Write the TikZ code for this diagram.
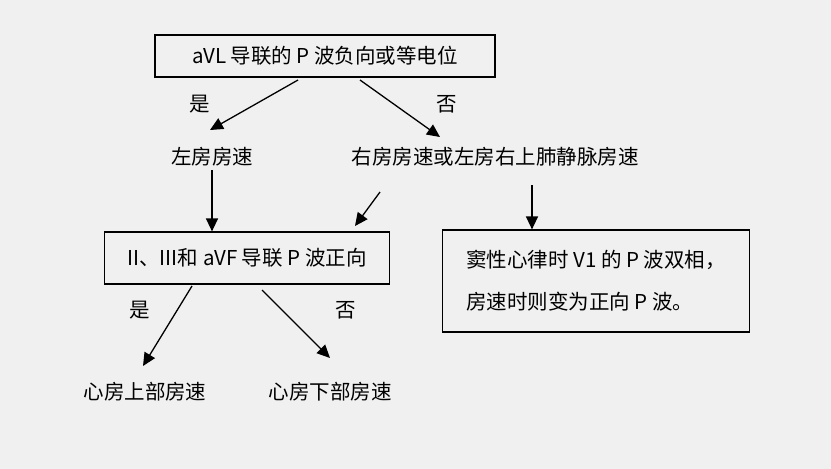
\documentclass[tikz,border=0pt]{standalone}
\usepackage{fontspec}
\setmainfont{Liberation Serif}
\newfontfamily\cjk{Noto Sans CJK SC}
\usetikzlibrary{arrows.meta}
\begin{document}
\begin{tikzpicture}[x=1pt,y=-1pt,
    box/.style = {draw, line width=1.2pt, inner sep=0pt},
    lbl/.style = {font=\cjk\fontsize{20.5}{24}\selectfont},
    arr/.style = {-{Triangle[length=13pt,width=12pt]}, line width=1.3pt}]
        \fill[gray!12] (0,0) rectangle (831,469) ; %
        \node[box, minimum width=340pt, minimum height=42pt, lbl] (top) at (325,56) {aVL 导联的 P 波负向或等电位} ; %
        \node[lbl] (yes1) at (200,104) {是} ; %
        \node[lbl] (no1) at (447,104) {否} ; %
        \node[lbl] (left) at (212,157) {左房房速} ; %
        \node[lbl] (right) at (495,157) {右房房速或左房右上肺静脉房速} ; %
        \node[box, minimum width=285pt, minimum height=52pt, lbl] (mid) at (247,258) {II、III和 aVF 导联 P 波正向} ; %
        \node[box, minimum width=307pt, minimum height=102pt, lbl, align=left] (sinus) at (596,281)
            {窦性心律时 V1 的 P 波双相，\\[18pt]房速时则变为正向 P 波。} ; %
        \node[lbl] (yes2) at (140,310) {是} ; %
        \node[lbl] (no2) at (346,310) {否} ; %
        \node[lbl] (upper) at (145,392) {心房上部房速} ; %
        \node[lbl] (lower) at (330,392) {心房下部房速} ; %
        %
        \coordinate (a1) at (298,80) ; \coordinate (b1) at (210,130) ; %
        \coordinate (a2) at (360,80) ; \coordinate (b2) at (440,137) ; %
        \coordinate (a3) at (380,192) ; \coordinate (b3) at (355,226) ; %
        \coordinate (a4) at (192,286) ; \coordinate (b4) at (143,366) ; %
        \coordinate (a5) at (262,290) ; \coordinate (b5) at (330,358) ; %
        %
        \draw[arr] (a1) -- (b1) ; %
        \draw[arr] (a2) -- (b2) ; %
        \draw[arr] (left.south) -- (mid.north -| left.south) ; %
        \draw[arr] (a3) -- (b3) ; %
        \draw[arr] (532,185) coordinate (a6) -- (sinus.north -| a6) ; %
        \draw[arr] (a4) -- (b4) ; %
        \draw[arr] (a5) -- (b5) ; %
\end{tikzpicture}
\end{document}
